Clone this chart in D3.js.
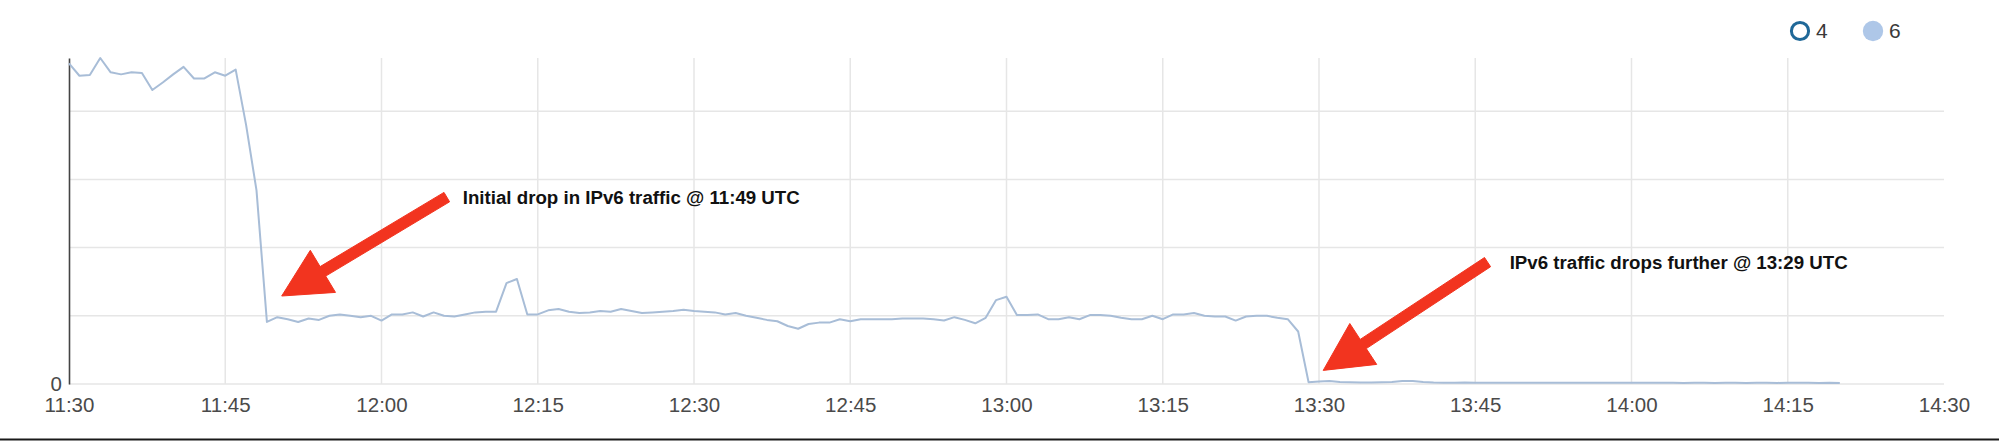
<!DOCTYPE html>
<html>
<head>
<meta charset="utf-8">
<script src="https://cdnjs.cloudflare.com/ajax/libs/d3/7.8.5/d3.min.js"></script>
<style>
    body { margin: 0; background: #fff; }
    svg { display: block; font-family: "Liberation Sans", Arial, Helvetica, sans-serif; }
    .grid line { stroke: #e6e6e6; stroke-width: 1.5; }
    .axis text { fill: #4a4a4a; font-size: 20.5px; }
    .axis .tick line { display: none; }
    .y-axis .domain { stroke: #444; stroke-width: 1.6; }
    .x-axis .domain { display: none; }
    .traffic-line { fill: none; stroke: #a8bdd7; stroke-width: 2; stroke-linejoin: round; }
    .note-text { font-size: 18.7px; font-weight: bold; fill: #111; }
    .note-arrow { fill: #f2341f; stroke: #f2341f; stroke-width: 1; stroke-linejoin: round; }
    .legend text { font-size: 21px; fill: #3a3a3a; }
</style>
</head>
<body>
<div id="chart"></div>
<script>
// series in the legend; "4" is switched off, only "6" is drawn
var seriesNames = ["4", "6"];
var seriesEnabled = [false, true];
var seriesColors = ["#1f6898", "#aec7e8"];

// one value per minute, starting 11:30 UTC
var startTime = "11:30";
var ipv6Traffic = [
    4.70, 4.52, 4.53, 4.78, 4.57, 4.54, 4.57, 4.56, 4.31, 4.42,
    4.54, 4.65, 4.48, 4.48, 4.57, 4.52, 4.61, 3.80, 2.84, 0.91,
    0.98, 0.95, 0.91, 0.96, 0.94, 1.00, 1.02, 1.00, 0.98, 1.00,
    0.93, 1.02, 1.02, 1.05, 0.99, 1.05, 1.00, 0.99, 1.02, 1.05,
    1.06, 1.06, 1.48, 1.54, 1.02, 1.02, 1.08, 1.10, 1.06, 1.04,
    1.05, 1.07, 1.06, 1.10, 1.07, 1.04, 1.05, 1.06, 1.07, 1.09,
    1.07, 1.06, 1.05, 1.02, 1.04, 1.00, 0.97, 0.94, 0.92, 0.85,
    0.81, 0.88, 0.90, 0.90, 0.95, 0.92, 0.95, 0.95, 0.95, 0.95,
    0.96, 0.96, 0.96, 0.95, 0.93, 0.98, 0.94, 0.89, 0.97, 1.23,
    1.28, 1.01, 1.01, 1.02, 0.95, 0.95, 0.98, 0.95, 1.01, 1.01,
    1.00, 0.97, 0.95, 0.95, 1.00, 0.95, 1.02, 1.02, 1.04, 1.00,
    0.99, 0.99, 0.93, 0.99, 1.00, 1.00, 0.97, 0.95, 0.77, 0.025,
    0.035, 0.045, 0.030, 0.025, 0.022, 0.022, 0.025, 0.030, 0.045, 0.045,
    0.030, 0.022, 0.020, 0.020, 0.022, 0.020, 0.018, 0.020, 0.020, 0.018,
    0.020, 0.018, 0.020, 0.020, 0.018, 0.018, 0.020, 0.018, 0.018, 0.020,
    0.018, 0.018, 0.020, 0.018, 0.018, 0.016, 0.018, 0.018, 0.016, 0.018,
    0.018, 0.016, 0.018, 0.018, 0.016, 0.018, 0.020, 0.018, 0.016, 0.018,
    0.016
];

var xTicks = ["11:30", "11:45", "12:00", "12:15", "12:30", "12:45", "13:00",
              "13:15", "13:30", "13:45", "14:00", "14:15", "14:30"];
var yTicks = [0, 1, 2, 3, 4];
var yTickLabels = ["0", "", "", "", ""];

// annotations, in minutes after 11:30 and traffic units
var noteTexts = ["Initial drop in IPv6 traffic @ 11:49 UTC",
                 "IPv6 traffic drops further @ 13:29 UTC"];
var noteTextAt = [[37.8, 2.64], [138.3, 1.68]];
var noteArrowFrom = [[36.27, 2.74], [136.18, 1.787]];
var noteArrowTo = [[20.42, 1.29], [120.40, 0.20]];

var outerWidth = 1999;
var outerHeight = 441;
var margin = {top: 58, right: 55, bottom: 57, left: 69}
    , width = outerWidth - margin.left - margin.right
    , height = outerHeight - margin.top - margin.bottom;

var parseTime = d3.utcParse("%H:%M");
var t0 = parseTime(startTime);
var minute = function(m) { return new Date(t0.getTime() + m * 60000); };

var data = ipv6Traffic.map(function(v, i) {
    return {time: minute(i), value: v};
});

var root = d3.select("#chart")
    .append("svg")
    .attr("width", outerWidth)
    .attr("height", outerHeight);

var svg = root.append("g")
    .attr("transform", "translate(" + margin.left + "," + margin.top + ")");

var xScale = d3.scaleUtc()
    .domain([parseTime(xTicks[0]), parseTime(xTicks[xTicks.length - 1])])
    .range([0, width]);

var yScale = d3.scaleLinear()
    .domain([0, d3.max(ipv6Traffic)])
    .range([height, 0]);

// grid
var grid = svg.append("g").attr("class", "grid");
grid.selectAll(".hgrid")
    .data(yTicks)
    .enter()
    .append("line")
    .attr("x1", 0)
    .attr("x2", width)
    .attr("y1", d => yScale(d))
    .attr("y2", d => yScale(d));

grid.selectAll(".vgrid")
    .data(xTicks.slice(1, -1))
    .enter()
    .append("line")
    .attr("x1", d => xScale(parseTime(d)))
    .attr("x2", d => xScale(parseTime(d)))
    .attr("y1", 0)
    .attr("y2", height);

// axes
svg.append("g")
    .attr("class", "axis x-axis")
    .attr("transform", "translate(0," + height + ")")
    .call(d3.axisBottom(xScale)
        .tickValues(xTicks.map(parseTime))
        .tickFormat(d3.utcFormat("%H:%M"))
        .tickSize(0)
        .tickPadding(13));

svg.append("g")
    .attr("class", "axis y-axis")
    .call(d3.axisLeft(yScale)
        .tickValues(yTicks)
        .tickFormat((d, i) => yTickLabels[i])
        .tickSizeOuter(0)
        .tickSize(0)
        .tickPadding(7));

// the traffic line
var line = d3.line()
    .x(d => xScale(d.time))
    .y(d => yScale(d.value));

svg.append("path")
    .datum(data)
    .attr("class", "traffic-line")
    .attr("d", line);

// red arrows + notes
function arrowPath(from, to) {
    var x1 = xScale(minute(from[0])), y1 = yScale(from[1]);
    var x2 = xScale(minute(to[0])), y2 = yScale(to[1]);
    var len = Math.hypot(x2 - x1, y2 - y1);
    var ux = (x2 - x1) / len, uy = (y2 - y1) / len;
    var nx = -uy, ny = ux;
    var headLen = 48, headHalf = 24.5, shaftHalf = 5.5;
    var bx = x2 - ux * headLen, by = y2 - uy * headLen;
    var pts = [
        [x1 + nx * shaftHalf, y1 + ny * shaftHalf],
        [bx + nx * shaftHalf, by + ny * shaftHalf],
        [bx + nx * headHalf, by + ny * headHalf],
        [x2, y2],
        [bx - nx * headHalf, by - ny * headHalf],
        [bx - nx * shaftHalf, by - ny * shaftHalf],
        [x1 - nx * shaftHalf, y1 - ny * shaftHalf]
    ];
    return "M" + pts.map(p => p[0].toFixed(1) + "," + p[1].toFixed(1)).join("L") + "Z";
}

svg.selectAll(".note-arrow")
    .data(noteTexts)
    .enter()
    .append("path")
    .attr("class", "note-arrow")
    .attr("d", (d, i) => arrowPath(noteArrowFrom[i], noteArrowTo[i]));

svg.selectAll(".note-text")
    .data(noteTexts)
    .enter()
    .append("text")
    .attr("class", "note-text")
    .attr("x", (d, i) => xScale(minute(noteTextAt[i][0])))
    .attr("y", (d, i) => yScale(noteTextAt[i][1]))
    .text(d => d);

// legend
var legend = root.append("g")
    .attr("class", "legend")
    .attr("transform", "translate(1800,31)");

var item = legend.selectAll(".legend-item")
    .data(seriesNames)
    .enter()
    .append("g")
    .attr("class", "legend-item")
    .attr("transform", (d, i) => "translate(" + (i * 73) + ",0)");

item.append("circle")
    .attr("r", (d, i) => seriesEnabled[i] ? 10.2 : 8.6)
    .style("fill", (d, i) => seriesEnabled[i] ? seriesColors[i] : "#fff")
    .style("stroke", (d, i) => seriesEnabled[i] ? "none" : seriesColors[i])
    .style("stroke-width", 3);

item.append("text")
    .attr("x", 16)
    .attr("y", 7.3)
    .text(d => d);

// dark edge along the bottom of the picture
root.append("line")
    .attr("x1", 0)
    .attr("x2", outerWidth)
    .attr("y1", 439.5)
    .attr("y2", 439.5)
    .style("stroke", "#1a1a1a")
    .style("stroke-width", 2);
</script>
</body>
</html>
